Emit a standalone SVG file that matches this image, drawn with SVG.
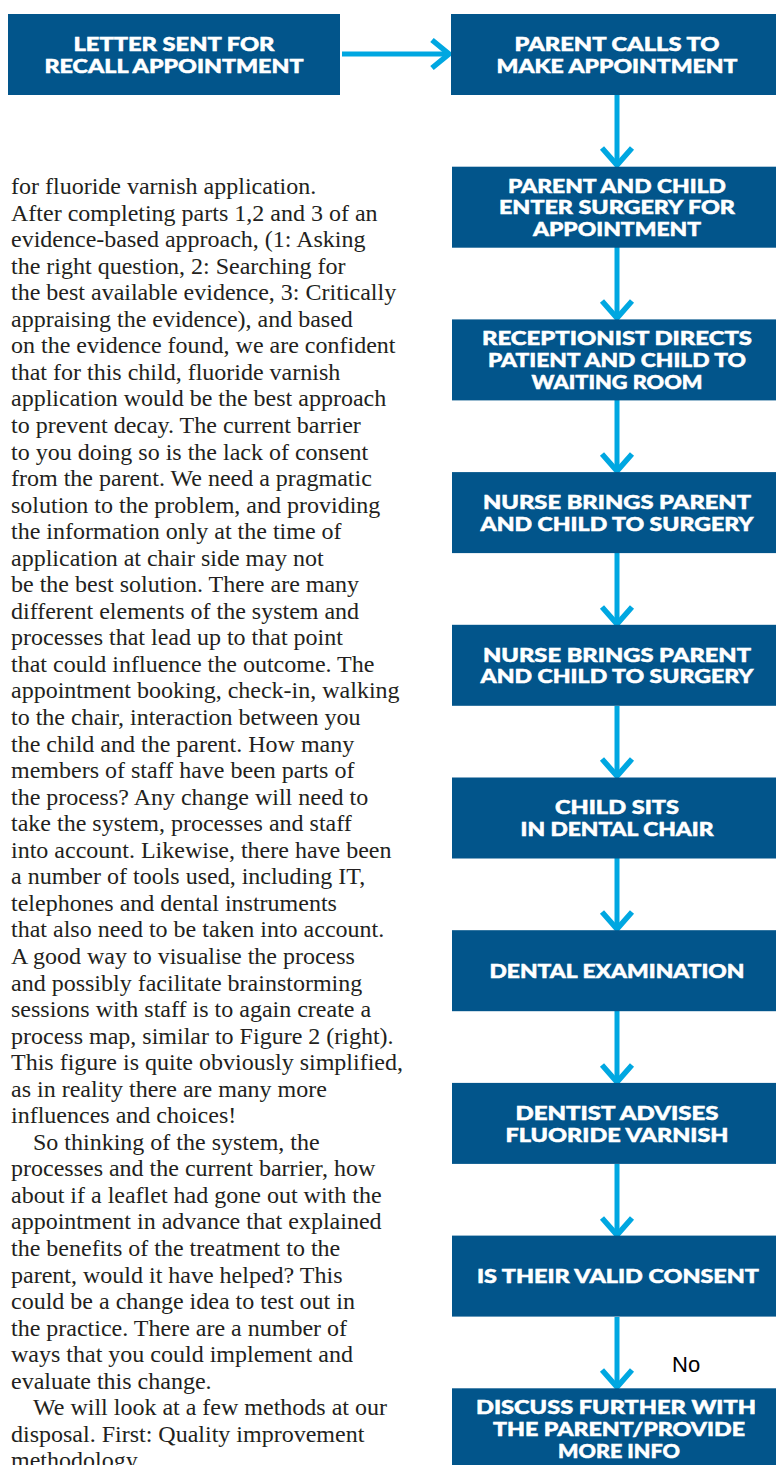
<svg xmlns="http://www.w3.org/2000/svg" width="776" height="1465" viewBox="0 0 776 1465">
<style>
.box{fill:#02558B}
.bt{font-family:Lato,"Liberation Sans",sans-serif;font-weight:900;font-size:18.5px;fill:#fff;stroke:#fff;stroke-width:0.5;text-anchor:middle}
.ln{stroke:#00A7E1;stroke-width:5;fill:none}
.hd{stroke:#00A7E1;stroke-width:5.5;fill:none;stroke-linecap:butt;stroke-linejoin:miter}
.body{font-family:"Liberation Serif",serif;font-size:24px;fill:#231f20}
.lbl{font-family:"Liberation Sans",Arial,sans-serif;font-size:22px;fill:#000}
</style>
<rect width="776" height="1465" fill="#fff"/>
<g id="connectors">
<line class="ln" x1="342" y1="54" x2="448" y2="54"/>
<polyline class="hd" points="432,40 449,54 432,68"/>
<line class="ln" x1="617" y1="95" x2="617" y2="164"/>
<polyline class="hd" points="602,148 617,165 632,148"/>
<line class="ln" x1="617" y1="247" x2="617" y2="317"/>
<polyline class="hd" points="602,301 617,318 632,301"/>
<line class="ln" x1="617" y1="400" x2="617" y2="470"/>
<polyline class="hd" points="602,454 617,471 632,454"/>
<line class="ln" x1="617" y1="553" x2="617" y2="622"/>
<polyline class="hd" points="602,607 617,624 632,607"/>
<line class="ln" x1="617" y1="706" x2="617" y2="775"/>
<polyline class="hd" points="602,759 617,776 632,759"/>
<line class="ln" x1="617" y1="858" x2="617" y2="928"/>
<polyline class="hd" points="602,912 617,929 632,912"/>
<line class="ln" x1="617" y1="1011" x2="617" y2="1081"/>
<polyline class="hd" points="602,1065 617,1082 632,1065"/>
<line class="ln" x1="617" y1="1164" x2="617" y2="1233"/>
<polyline class="hd" points="602,1218 617,1235 632,1218"/>
<line class="ln" x1="617" y1="1317" x2="617" y2="1386"/>
<polyline class="hd" points="602,1370 617,1387 632,1370"/>
<text class="lbl" x="672" y="1372">No</text>
</g>
<g id="n0"><rect class="box" x="8" y="14" width="332" height="81"/>
<text class="bt" x="174" y="51" textLength="201" lengthAdjust="spacingAndGlyphs">LETTER SENT FOR</text><text class="bt" x="174" y="72.7" textLength="259" lengthAdjust="spacingAndGlyphs">RECALL APPOINTMENT</text></g>
<g id="n1"><rect class="box" x="451" y="14" width="330" height="81"/>
<text class="bt" x="617" y="51" textLength="205" lengthAdjust="spacingAndGlyphs">PARENT CALLS TO</text><text class="bt" x="617" y="72.7" textLength="241" lengthAdjust="spacingAndGlyphs">MAKE APPOINTMENT</text></g>
<g id="n2"><rect class="box" x="452" y="166.7" width="330" height="81"/>
<text class="bt" x="617" y="192.7" textLength="218" lengthAdjust="spacingAndGlyphs">PARENT AND CHILD</text><text class="bt" x="617" y="214.3" textLength="236" lengthAdjust="spacingAndGlyphs">ENTER SURGERY FOR</text><text class="bt" x="617" y="236" textLength="168" lengthAdjust="spacingAndGlyphs">APPOINTMENT</text></g>
<g id="n3"><rect class="box" x="452" y="319.4" width="330" height="81"/>
<text class="bt" x="617" y="345.4" textLength="270" lengthAdjust="spacingAndGlyphs">RECEPTIONIST DIRECTS</text><text class="bt" x="617" y="367" textLength="258" lengthAdjust="spacingAndGlyphs">PATIENT AND CHILD TO</text><text class="bt" x="617" y="388.7" textLength="171" lengthAdjust="spacingAndGlyphs">WAITING ROOM</text></g>
<g id="n4"><rect class="box" x="452" y="472.1" width="330" height="81"/>
<text class="bt" x="617" y="509" textLength="268" lengthAdjust="spacingAndGlyphs">NURSE BRINGS PARENT</text><text class="bt" x="617" y="530.7" textLength="273" lengthAdjust="spacingAndGlyphs">AND CHILD TO SURGERY</text></g>
<g id="n5"><rect class="box" x="452" y="624.8" width="330" height="81"/>
<text class="bt" x="617" y="661.7" textLength="268" lengthAdjust="spacingAndGlyphs">NURSE BRINGS PARENT</text><text class="bt" x="617" y="683.4" textLength="273" lengthAdjust="spacingAndGlyphs">AND CHILD TO SURGERY</text></g>
<g id="n6"><rect class="box" x="452" y="777.5" width="330" height="81"/>
<text class="bt" x="617" y="814.4" textLength="124" lengthAdjust="spacingAndGlyphs">CHILD SITS</text><text class="bt" x="617" y="836.1" textLength="193" lengthAdjust="spacingAndGlyphs">IN DENTAL CHAIR</text></g>
<g id="n7"><rect class="box" x="452" y="930.2" width="330" height="81"/>
<text class="bt" x="617" y="977.5" textLength="255" lengthAdjust="spacingAndGlyphs">DENTAL EXAMINATION</text></g>
<g id="n8"><rect class="box" x="452" y="1082.9" width="330" height="81"/>
<text class="bt" x="617" y="1119.8" textLength="203" lengthAdjust="spacingAndGlyphs">DENTIST ADVISES</text><text class="bt" x="617" y="1141.5" textLength="223" lengthAdjust="spacingAndGlyphs">FLUORIDE VARNISH</text></g>
<g id="n9"><rect class="box" x="452" y="1235.6" width="330" height="81"/>
<text class="bt" x="618" y="1283" textLength="282" lengthAdjust="spacingAndGlyphs">IS THEIR VALID CONSENT</text></g>
<g id="n10"><rect class="box" x="452" y="1388.3" width="330" height="81"/>
<text class="bt" x="616" y="1414.3" textLength="280" lengthAdjust="spacingAndGlyphs">DISCUSS FURTHER WITH</text><text class="bt" x="619" y="1436" textLength="252" lengthAdjust="spacingAndGlyphs">THE PARENT/PROVIDE</text><text class="bt" x="619" y="1457.7" textLength="122" lengthAdjust="spacingAndGlyphs">MORE INFO</text></g>
<g id="bodytext" class="body">
<text x="11" y="194">for fluoride varnish application.</text>
<text x="11" y="220.55">After completing parts 1,2 and 3 of an</text>
<text x="11" y="247.1">evidence-based approach, (1: Asking</text>
<text x="11" y="273.65">the right question, 2: Searching for</text>
<text x="11" y="300.2">the best available evidence, 3: Critically</text>
<text x="11" y="326.75">appraising the evidence), and based</text>
<text x="11" y="353.3">on the evidence found, we are confident</text>
<text x="11" y="379.85">that for this child, fluoride varnish</text>
<text x="11" y="406.4">application would be the best approach</text>
<text x="11" y="432.95">to prevent decay. The current barrier</text>
<text x="11" y="459.5">to you doing so is the lack of consent</text>
<text x="11" y="486.05">from the parent. We need a pragmatic</text>
<text x="11" y="512.6">solution to the problem, and providing</text>
<text x="11" y="539.15">the information only at the time of</text>
<text x="11" y="565.7">application at chair side may not</text>
<text x="11" y="592.25">be the best solution. There are many</text>
<text x="11" y="618.8">different elements of the system and</text>
<text x="11" y="645.35">processes that lead up to that point</text>
<text x="11" y="671.9">that could influence the outcome. The</text>
<text x="11" y="698.45">appointment booking, check-in, walking</text>
<text x="11" y="725">to the chair, interaction between you</text>
<text x="11" y="751.55">the child and the parent. How many</text>
<text x="11" y="778.1">members of staff have been parts of</text>
<text x="11" y="804.65">the process? Any change will need to</text>
<text x="11" y="831.2">take the system, processes and staff</text>
<text x="11" y="857.75">into account. Likewise, there have been</text>
<text x="11" y="884.3">a number of tools used, including IT,</text>
<text x="11" y="910.85">telephones and dental instruments</text>
<text x="11" y="937.4">that also need to be taken into account.</text>
<text x="11" y="963.95">A good way to visualise the process</text>
<text x="11" y="990.5">and possibly facilitate brainstorming</text>
<text x="11" y="1017.05">sessions with staff is to again create a</text>
<text x="11" y="1043.6">process map, similar to Figure 2 (right).</text>
<text x="11" y="1070.15">This figure is quite obviously simplified,</text>
<text x="11" y="1096.7">as in reality there are many more</text>
<text x="11" y="1123.25">influences and choices!</text>
<text x="33" y="1149.8">So thinking of the system, the</text>
<text x="11" y="1176.35">processes and the current barrier, how</text>
<text x="11" y="1202.9">about if a leaflet had gone out with the</text>
<text x="11" y="1229.45">appointment in advance that explained</text>
<text x="11" y="1256">the benefits of the treatment to the</text>
<text x="11" y="1282.55">parent, would it have helped? This</text>
<text x="11" y="1309.1">could be a change idea to test out in</text>
<text x="11" y="1335.65">the practice. There are a number of</text>
<text x="11" y="1362.2">ways that you could implement and</text>
<text x="11" y="1388.75">evaluate this change.</text>
<text x="33" y="1415.3">We will look at a few methods at our</text>
<text x="11" y="1441.85">disposal. First: Quality improvement</text>
<text x="11" y="1468.4">methodology</text>
</g>
</svg>
